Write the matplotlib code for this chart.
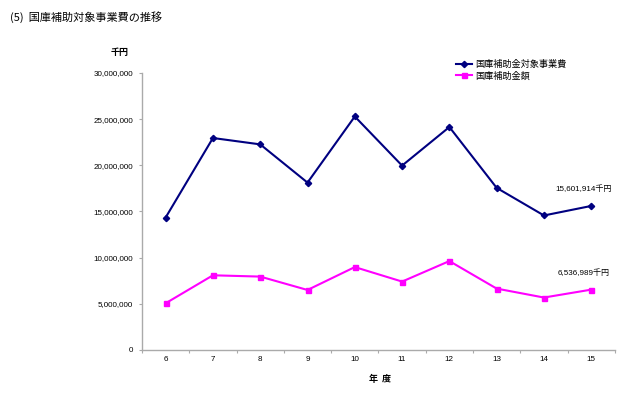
import matplotlib
matplotlib.use("Agg")
import matplotlib.pyplot as plt
from matplotlib.ticker import FuncFormatter, FixedLocator

plt.rcParams['font.family'] = ['Liberation Sans', 'Noto Sans CJK JP', 'DejaVu Sans']
cjk = ['Noto Sans CJK JP', 'DejaVu Sans']

# data (thousand yen)
years = [6, 7, 8, 9, 10, 11, 12, 13, 14, 15]
total_cost = [14350000, 22960000, 22270000, 18130000, 25290000,
              19970000, 24150000, 17560000, 14570000, 15601914]
subsidy = [5060000, 8090000, 7950000, 6500000, 8980000,
           7410000, 9630000, 6650000, 5680000, 6536989]
labels = ["国庫補助金対象事業費", "国庫補助金額"]

fig = plt.figure(figsize=(6.3, 3.94), dpi=100)
ax = fig.add_axes([0.2254, 0.1117, 0.7506, 0.7030])

ax.plot(years, total_cost, color="#000080", marker="D", markersize=3.2,
        linewidth=1.5, label=labels[0])
ax.plot(years, subsidy, color="#FF00FF", marker="s", markersize=3.6,
        linewidth=1.5, label=labels[1])

ax.set_xlim(5.5, 15.5)
ax.set_ylim(0, 30000000)
ax.set_yticks(range(0, 30000001, 5000000))
ax.yaxis.set_major_formatter(FuncFormatter(lambda v, p: f"{int(v):,}"))
ax.xaxis.set_major_locator(FixedLocator([y + 0.5 for y in [5] + years]))
ax.xaxis.set_major_formatter(FuncFormatter(lambda v, p: ""))
ax.xaxis.set_minor_locator(FixedLocator(years))
ax.xaxis.set_minor_formatter(FuncFormatter(lambda v, p: f"{int(round(v))}"))
ax.tick_params(axis="x", which="minor", length=0, pad=4.5, labelsize=5.8)
ax.tick_params(axis="x", which="major", length=2, color="#aaaaaa")
ax.tick_params(axis="y", length=2, color="#aaaaaa", labelsize=5.8, pad=4.5)

for s in ["top", "right"]:
    ax.spines[s].set_visible(False)
for s in ["left", "bottom"]:
    ax.spines[s].set_color("#aaaaaa")
    ax.spines[s].set_linewidth(1.0)

ax.annotate(f"{total_cost[-1]:,}千円", xy=(years[-1], total_cost[-1]),
            xytext=(-26, 12), textcoords="offset points", ha="left",
            va="center", fontsize=5.8)
ax.annotate(f"{subsidy[-1]:,}千円", xy=(years[-1], subsidy[-1]),
            xytext=(-24, 12), textcoords="offset points", ha="left",
            va="center", fontsize=5.8)

fig.text(10 / 630, 1 - 17 / 394, "(5)  国庫補助対象事業費の推移", fontsize=8,
         va="center", ha="left", family=cjk)
fig.text(120 / 630, 1 - 52 / 394, "千円", fontsize=6.5, va="center", ha="center",
         weight="bold", family=cjk)
fig.text(380 / 630, 1 - 379 / 394, "年  度", fontsize=6.5, va="center",
         ha="center", weight="bold", family=cjk)

leg = ax.legend(loc="upper left", bbox_to_anchor=(451 / 630, 1 - 55 / 394),
                bbox_transform=fig.transFigure, frameon=False,
                prop={'family': cjk, 'size': 6.6},
                handlelength=1.8, handletextpad=0.3, labelspacing=0.3,
                borderpad=0)

fig.savefig("out.png", dpi=100)
